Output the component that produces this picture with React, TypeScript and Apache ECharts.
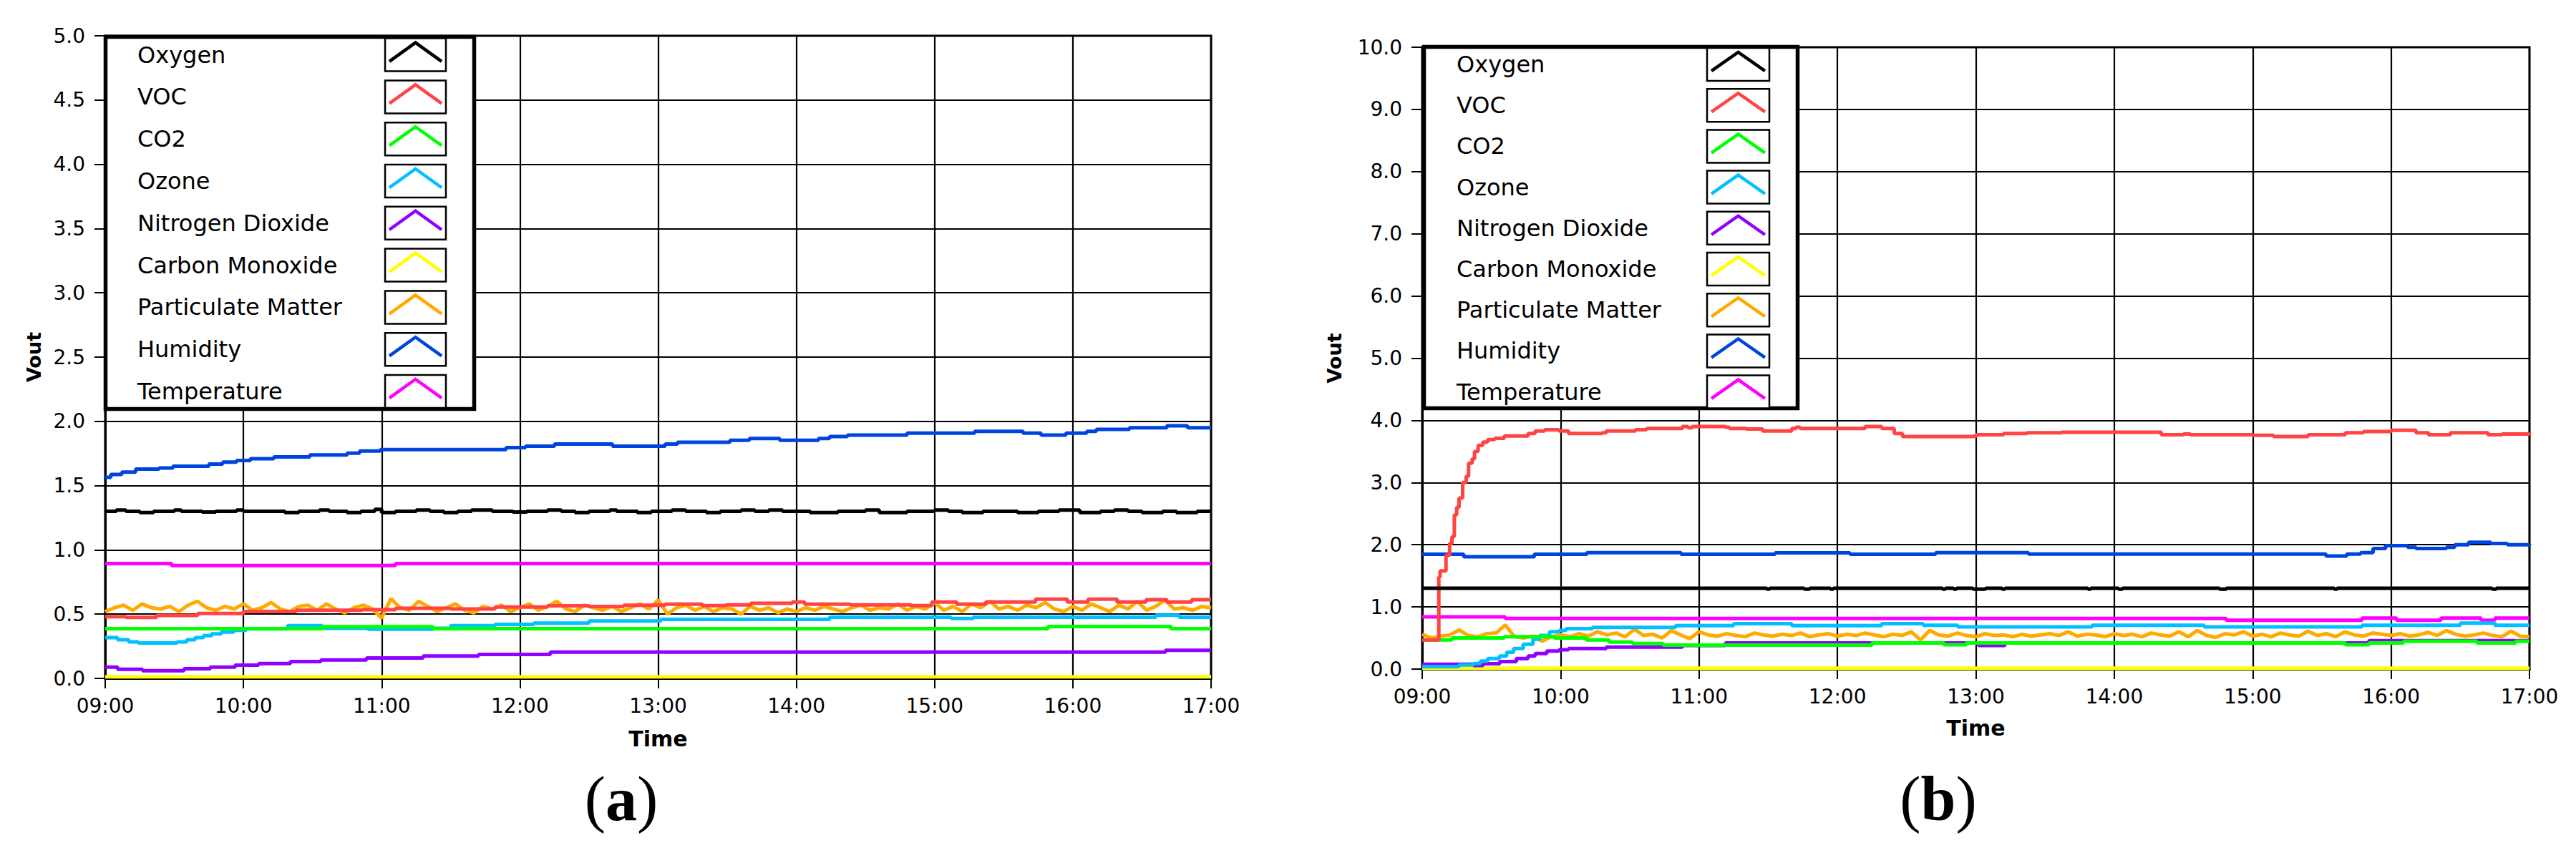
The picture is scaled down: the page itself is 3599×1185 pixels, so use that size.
import React, { useEffect, useRef } from "react";
import * as echarts from "echarts";

// ---------- data ----------
const SERIES_NAMES = [
  "Oxygen",
  "VOC",
  "CO2",
  "Ozone",
  "Nitrogen Dioxide",
  "Carbon Monoxide",
  "Particulate Matter",
  "Humidity",
  "Temperature",
];
const SERIES_COLORS = [
  "#000000",
  "#ff4444",
  "#00ff00",
  "#00c0ff",
  "#9000ff",
  "#ffff00",
  "#ffaa00",
  "#0044e0",
  "#ff00ff",
];

const X_MIN = 9;
const X_MAX = 17;
const PM_SAMPLE_HOURS = 4 / 60;

// ----- panel (a) : [hour, Vout] -----
const oxygenA = [
  [9.0, 1.3], [9.08, 1.31], [9.15, 1.3], [9.25, 1.29], [9.35, 1.3], [9.5, 1.31], [9.55, 1.3], [9.7, 1.295],
  [9.8, 1.3], [9.95, 1.31], [10.0, 1.3], [10.3, 1.29], [10.4, 1.3], [10.55, 1.31], [10.62, 1.3], [10.75, 1.29],
  [10.85, 1.3], [10.95, 1.315], [11.0, 1.29], [11.1, 1.3], [11.25, 1.31], [11.35, 1.3], [11.45, 1.29], [11.55, 1.3],
  [11.65, 1.31], [11.8, 1.3], [11.95, 1.295], [12.05, 1.3], [12.2, 1.31], [12.3, 1.3], [12.4, 1.29], [12.5, 1.3],
  [12.65, 1.31], [12.7, 1.3], [12.85, 1.29], [12.95, 1.3], [13.1, 1.31], [13.2, 1.3], [13.35, 1.29], [13.45, 1.3],
  [13.6, 1.31], [13.7, 1.3], [13.8, 1.31], [13.9, 1.3], [14.1, 1.29], [14.3, 1.3], [14.5, 1.31], [14.6, 1.29],
  [14.8, 1.3], [15.0, 1.31], [15.1, 1.3], [15.2, 1.29], [15.35, 1.3], [15.6, 1.29], [15.75, 1.3], [15.9, 1.31],
  [16.05, 1.29], [16.2, 1.3], [16.3, 1.31], [16.4, 1.3], [16.5, 1.29], [16.65, 1.3], [16.75, 1.29], [16.9, 1.3],
  [17.0, 1.3],
];
const vocA = [
  [9.0, 0.48], [9.15, 0.475], [9.37, 0.49], [9.67, 0.505], [10.0, 0.52], [10.38, 0.53], [10.86, 0.535], [11.1, 0.545],
  [11.5, 0.54], [11.82, 0.555], [12.2, 0.565], [12.5, 0.56], [12.75, 0.57], [13.05, 0.578], [13.32, 0.567],
  [13.49, 0.572], [13.67, 0.585], [13.97, 0.594], [14.06, 0.578], [14.39, 0.572], [14.83, 0.567], [14.98, 0.594],
  [15.16, 0.578], [15.37, 0.594], [15.73, 0.617], [15.96, 0.594], [16.11, 0.617], [16.32, 0.594], [16.53, 0.612],
  [16.68, 0.594], [16.86, 0.612], [17.0, 0.612],
];
const co2A = [[9.0, 0.387], [10.57, 0.402], [11.37, 0.387], [15.82, 0.404], [16.71, 0.387], [17.0, 0.387]];
const ozoneA = [
  [9.0, 0.318], [9.09, 0.3], [9.17, 0.284], [9.24, 0.275], [9.52, 0.284], [9.59, 0.3], [9.65, 0.318], [9.71, 0.333],
  [9.77, 0.346], [9.84, 0.36], [9.93, 0.374], [10.02, 0.385], [10.32, 0.41], [10.57, 0.39], [10.9, 0.383],
  [11.37, 0.39], [11.5, 0.41], [11.82, 0.42], [12.1, 0.43], [12.5, 0.447], [13.02, 0.46], [14.24, 0.476],
  [15.12, 0.467], [15.28, 0.476], [16.6, 0.492], [16.77, 0.476], [17.0, 0.476],
];
const no2A = [
  [9.0, 0.088], [9.09, 0.071], [9.27, 0.06], [9.57, 0.075], [9.76, 0.088], [9.94, 0.103], [10.11, 0.116],
  [10.34, 0.131], [10.56, 0.144], [10.89, 0.159], [11.3, 0.174], [11.7, 0.187], [12.22, 0.204], [16.67, 0.218],
  [17.0, 0.218],
];
const coA = [[9.0, 0.012], [17.0, 0.012]];
const pmA = [
  0.52, 0.55, 0.57, 0.53, 0.58, 0.55, 0.54, 0.56, 0.52, 0.57, 0.6, 0.55, 0.53, 0.56, 0.54,
  0.58, 0.53, 0.55, 0.59, 0.54, 0.52, 0.56, 0.57, 0.53, 0.58, 0.54, 0.51, 0.55, 0.57, 0.54,
  0.47, 0.62, 0.55, 0.53, 0.6, 0.56, 0.52, 0.55, 0.58, 0.53, 0.51, 0.56, 0.54, 0.57, 0.52,
  0.55, 0.58, 0.53, 0.56, 0.6, 0.54, 0.52, 0.57, 0.55, 0.53, 0.56, 0.52, 0.55, 0.58, 0.54,
  0.61, 0.5, 0.55, 0.57, 0.53, 0.56, 0.52, 0.55, 0.54, 0.5, 0.56, 0.53, 0.55, 0.51, 0.54,
  0.52, 0.55, 0.53, 0.56, 0.54, 0.52, 0.55, 0.57, 0.53, 0.55, 0.54, 0.58, 0.53, 0.56, 0.54,
  0.59, 0.53, 0.56, 0.52, 0.58, 0.55, 0.6, 0.54, 0.56, 0.53, 0.57, 0.55, 0.59, 0.54, 0.52,
  0.56, 0.53, 0.58, 0.55, 0.52, 0.57, 0.54, 0.6, 0.53, 0.56, 0.61, 0.54, 0.55, 0.53, 0.56,
  0.55,
];
const humidityA = [
  [9.0, 1.565], [9.04, 1.587], [9.12, 1.605], [9.22, 1.628], [9.39, 1.637], [9.49, 1.651], [9.75, 1.667],
  [9.85, 1.683], [9.95, 1.696], [10.05, 1.71], [10.22, 1.723], [10.48, 1.739], [10.75, 1.753], [10.84, 1.769],
  [10.99, 1.78], [11.9, 1.796], [12.04, 1.807], [12.25, 1.823], [12.67, 1.807], [13.05, 1.823], [13.14, 1.837],
  [13.52, 1.853], [13.66, 1.866], [13.88, 1.853], [14.16, 1.866], [14.24, 1.882], [14.37, 1.893], [14.8, 1.909],
  [15.29, 1.923], [15.64, 1.909], [15.77, 1.893], [15.95, 1.909], [16.1, 1.923], [16.17, 1.937], [16.41, 1.95],
  [16.68, 1.966], [16.83, 1.95], [17.0, 1.95],
];
const temperatureA = [[9.0, 0.893], [9.48, 0.878], [11.1, 0.893], [17.0, 0.893]];

// ----- panel (b) : [hour, Vout] -----
const oxygenB = [
  [9.0, 1.3], [11.49, 1.285], [11.51, 1.3], [11.76, 1.285], [11.8, 1.3], [11.95, 1.285], [11.97, 1.3],
  [12.76, 1.285], [12.78, 1.3], [12.84, 1.285], [12.86, 1.3], [12.98, 1.285], [13.07, 1.3], [13.19, 1.285],
  [13.21, 1.3], [13.81, 1.285], [13.83, 1.3], [14.03, 1.285], [14.06, 1.3], [14.76, 1.285], [14.81, 1.3],
  [15.59, 1.285], [15.61, 1.3], [16.73, 1.285], [16.76, 1.3], [17.0, 1.3],
];
const vocB = [
  [9.0, 0.47], [9.12, 1.48], [9.129, 1.58], [9.172, 1.83], [9.198, 2.02], [9.215, 2.13], [9.232, 2.48],
  [9.249, 2.6], [9.266, 2.75], [9.292, 3.0], [9.318, 3.1], [9.335, 3.31], [9.361, 3.38], [9.378, 3.5],
  [9.404, 3.6], [9.438, 3.65], [9.473, 3.69], [9.524, 3.71], [9.593, 3.75], [9.765, 3.79], [9.816, 3.83],
  [9.885, 3.85], [9.988, 3.83], [10.057, 3.79], [10.3, 3.8], [10.33, 3.83], [10.54, 3.85], [10.62, 3.87],
  [10.88, 3.9], [10.92, 3.88], [10.95, 3.9], [11.19, 3.89], [11.22, 3.87], [11.34, 3.86], [11.46, 3.83],
  [11.67, 3.87], [11.7, 3.89], [11.73, 3.87], [12.0, 3.87], [12.2, 3.9], [12.32, 3.87], [12.41, 3.79],
  [12.47, 3.74], [12.71, 3.74], [13.0, 3.77], [13.2, 3.79], [13.37, 3.8], [13.62, 3.81], [14.0, 3.81],
  [14.34, 3.77], [14.5, 3.78], [14.55, 3.77], [15.0, 3.76], [15.15, 3.74], [15.4, 3.77], [15.67, 3.8],
  [15.8, 3.82], [16.0, 3.84], [16.18, 3.8], [16.27, 3.77], [16.43, 3.8], [16.7, 3.77], [16.8, 3.78],
  [17.0, 3.8],
];
const co2B = [
  [9.0, 0.47], [9.215, 0.5], [9.593, 0.52], [9.954, 0.5], [10.186, 0.47], [10.35, 0.435], [10.52, 0.41],
  [10.74, 0.385], [12.25, 0.42], [12.77, 0.39], [12.93, 0.42], [15.67, 0.39], [15.84, 0.42], [16.09, 0.45],
  [16.62, 0.42], [16.9, 0.45], [17.0, 0.45],
];
const ozoneB = [
  [9.0, 0.04], [9.266, 0.065], [9.37, 0.09], [9.421, 0.13], [9.473, 0.17], [9.558, 0.21], [9.61, 0.27],
  [9.66, 0.33], [9.73, 0.4], [9.8, 0.48], [9.85, 0.54], [9.92, 0.6], [9.99, 0.62], [10.04, 0.65], [10.23, 0.67],
  [10.83, 0.7], [11.25, 0.73], [11.67, 0.7], [12.32, 0.73], [12.62, 0.705], [12.87, 0.68], [13.84, 0.705],
  [14.65, 0.68], [15.79, 0.705], [16.5, 0.74], [16.75, 0.705], [17.0, 0.705],
];
const no2B = [
  [9.0, 0.077], [9.37, 0.058], [9.44, 0.085], [9.56, 0.12], [9.68, 0.17], [9.765, 0.21], [9.816, 0.25],
  [9.9, 0.29], [9.988, 0.31], [10.057, 0.33], [10.33, 0.354], [10.88, 0.38], [11.19, 0.42], [13.02, 0.38],
  [13.21, 0.42], [15.84, 0.458], [17.0, 0.458],
];
const coB = [[9.0, 0.015], [17.0, 0.015]];
const pmB = [
  0.56, 0.5, 0.53, 0.55, 0.63, 0.54, 0.52, 0.57, 0.58, 0.71, 0.52, 0.5, 0.53, 0.45, 0.52,
  0.55, 0.52, 0.57, 0.53, 0.6, 0.55, 0.58, 0.52, 0.64, 0.54, 0.56, 0.5, 0.62, 0.55, 0.49,
  0.6, 0.55, 0.53, 0.57, 0.54, 0.52, 0.58, 0.55, 0.53, 0.56, 0.54, 0.58, 0.52, 0.55, 0.57,
  0.53, 0.56, 0.54, 0.58, 0.55, 0.52, 0.56, 0.54, 0.6, 0.47, 0.62, 0.55, 0.53, 0.58, 0.54,
  0.52, 0.57, 0.54, 0.55, 0.52, 0.56, 0.53, 0.55, 0.57, 0.54, 0.6, 0.53, 0.56, 0.55, 0.52,
  0.57, 0.54, 0.56, 0.52, 0.58, 0.55, 0.53, 0.6, 0.52, 0.62, 0.54, 0.51, 0.57, 0.55, 0.6,
  0.53, 0.56, 0.52, 0.58, 0.55, 0.53, 0.61, 0.54, 0.57, 0.52, 0.6, 0.55, 0.53, 0.58, 0.56,
  0.54, 0.57, 0.53, 0.55, 0.59, 0.54, 0.62, 0.56, 0.53, 0.55, 0.58, 0.54, 0.52, 0.61, 0.53,
  0.52,
];
const humidityB = [
  [9.0, 1.846], [9.3, 1.808], [9.81, 1.846], [10.19, 1.873], [10.87, 1.846], [11.55, 1.87], [12.09, 1.846],
  [12.71, 1.874], [13.38, 1.849], [15.53, 1.819], [15.68, 1.849], [15.78, 1.874], [15.87, 1.94], [15.96, 1.985],
  [16.12, 1.96], [16.18, 1.94], [16.4, 1.96], [16.46, 2.0], [16.56, 2.04], [16.72, 2.02], [16.84, 2.0],
  [17.0, 2.015],
];
const temperatureB = [
  [9.0, 0.84], [9.6, 0.815], [14.81, 0.786], [15.79, 0.821], [16.04, 0.786], [16.36, 0.821], [16.65, 0.786],
  [16.75, 0.821], [17.0, 0.821],
];

// ---------- layout ----------
const W = 3599;
const H = 1185;
const FONT = "'DejaVu Sans', Verdana, sans-serif";
const LINE_W = 5;

const PANELS = [
  {
    grid: { left: 147, top: 50, width: 1545, height: 898 },
    yMax: 5, yStep: 0.5, yNameGap: 86, xNameGap: 69,
    legend: { x: 147.5, y: 51.5, w: 515, h: 520, textX: 192, swX: 538, swY: 53.6, swW: 85, swH: 46, pitch: 58.8 },
    tag: { x: 868, y: 1116, letter: "a" },
    data: [oxygenA, vocA, co2A, ozoneA, no2A, coA, pmA, humidityA, temperatureA],
  },
  {
    grid: { left: 1987, top: 66, width: 1547, height: 869 },
    yMax: 10, yStep: 1, yNameGap: 109, xNameGap: 67,
    legend: { x: 1989.5, y: 65.5, w: 522, h: 505, textX: 2035, swX: 2385, swY: 67, swW: 87, swH: 46, pitch: 57.2 },
    tag: { x: 2708, y: 1116, letter: "b" },
    data: [oxygenB, vocB, co2B, ozoneB, no2B, coB, pmB, humidityB, temperatureB],
  },
];

const PM_INDEX = 6;

function toPairs(values: number[]) {
  return values.map((v, i) => [X_MIN + i * PM_SAMPLE_HOURS, v]);
}

function buildOption() {
  const grids: any[] = [];
  const xAxes: any[] = [];
  const yAxes: any[] = [];
  const series: any[] = [];
  const graphics: any[] = [];

  PANELS.forEach((p, pi) => {
    grids.push({
      ...p.grid,
      containLabel: false,
      outerBoundsMode: "none",
      show: true,
      borderColor: "#000",
      borderWidth: 3,
      backgroundColor: "#fff",
    });
    xAxes.push({
      type: "value",
      gridIndex: pi,
      min: X_MIN,
      max: X_MAX,
      interval: 1,
      name: "Time",
      nameLocation: "middle",
      nameGap: p.xNameGap,
      nameTextStyle: { fontFamily: FONT, fontSize: 30, fontWeight: "bold", color: "#000" },
      axisLine: { show: true, lineStyle: { color: "#000", width: 3 } },
      axisTick: { show: true, length: 14, lineStyle: { color: "#000", width: 2 } },
      axisLabel: {
        fontFamily: FONT,
        fontSize: 28,
        color: "#000",
        margin: 24,
        formatter: (v: number) => (v < 10 ? "0" : "") + v + ":00",
      },
      splitLine: { show: true, lineStyle: { color: "#000", width: 2.2 } },
    });
    yAxes.push({
      type: "value",
      gridIndex: pi,
      min: 0,
      max: p.yMax,
      interval: p.yStep,
      name: "Vout",
      nameLocation: "middle",
      nameRotate: 90,
      nameGap: p.yNameGap,
      nameTextStyle: { fontFamily: FONT, fontSize: 27, fontWeight: "bold", color: "#000" },
      axisLine: { show: true, lineStyle: { color: "#000", width: 3 } },
      axisTick: { show: true, length: 15, lineStyle: { color: "#000", width: 2 } },
      axisLabel: {
        fontFamily: FONT,
        fontSize: 28,
        color: "#000",
        margin: 28,
        formatter: (v: number) => v.toFixed(1),
      },
      splitLine: { show: true, lineStyle: { color: "#000", width: 2.2 } },
    });

    // lower index drawn on top -> push in reverse order
    for (let si = SERIES_NAMES.length - 1; si >= 0; si--) {
      const raw: any = p.data[si];
      const isPM = si === PM_INDEX;
      series.push({
        type: "line",
        name: SERIES_NAMES[si],
        xAxisIndex: pi,
        yAxisIndex: pi,
        data: isPM ? toPairs(raw) : raw,
        step: isPM ? false : "end",
        showSymbol: false,
        symbol: "none",
        lineStyle: { color: SERIES_COLORS[si], width: LINE_W },
        itemStyle: { color: SERIES_COLORS[si] },
        emphasis: { disabled: true },
        silent: true,
      });
    }

    // LabVIEW-style legend box
    const L = p.legend;
    graphics.push({
      type: "rect",
      z: 100,
      shape: { x: L.x, y: L.y, width: L.w, height: L.h },
      style: { fill: "#fff", stroke: "#000", lineWidth: 5.5 },
    });
    SERIES_NAMES.forEach((name, si) => {
      const sy = L.swY + si * L.pitch;
      graphics.push({
        type: "rect",
        z: 101,
        shape: { x: L.swX, y: sy, width: L.swW, height: L.swH },
        style: { fill: "#fff", stroke: "#000", lineWidth: 2.5 },
      });
      graphics.push({
        type: "polyline",
        z: 102,
        shape: {
          points: [
            [L.swX + L.swW * 0.07, sy + L.swH * 0.7],
            [L.swX + L.swW * 0.5, sy + L.swH * 0.13],
            [L.swX + L.swW * 0.93, sy + L.swH * 0.7],
          ],
        },
        style: { stroke: SERIES_COLORS[si], lineWidth: 4.5, fill: null },
      });
      graphics.push({
        type: "text",
        z: 102,
        x: L.textX,
        y: sy + L.swH / 2,
        style: {
          text: name,
          fontFamily: FONT,
          fontSize: 32,
          fill: "#000",
          textVerticalAlign: "middle",
          verticalAlign: "middle",
          textAlign: "left",
        },
      });
    });

    graphics.push({
      type: "text",
      z: 102,
      x: p.tag.x,
      y: p.tag.y,
      style: {
        text: "{p|(}{b|" + p.tag.letter + "}{p|)}",
        textAlign: "center",
        textVerticalAlign: "middle",
        verticalAlign: "middle",
        rich: {
          p: { fontFamily: "'Liberation Serif', 'Times New Roman', serif", fontSize: 88, fill: "#000" },
          b: {
            fontFamily: "'Liberation Serif', 'Times New Roman', serif",
            fontSize: 88,
            fontWeight: "bold",
            fill: "#000",
          },
        },
      },
    });
  });

  return {
    animation: false,
    backgroundColor: "#fff",
    legend: { show: false, data: SERIES_NAMES },
    grid: grids,
    xAxis: xAxes,
    yAxis: yAxes,
    series,
    graphic: { elements: graphics },
  };
}

export default function App() {
  const ref = useRef<HTMLDivElement>(null);
  useEffect(() => {
    document.body.style.margin = "0";
    if (!ref.current) return;
    const chart = echarts.init(ref.current, undefined, { renderer: "svg", width: W, height: H });
    chart.setOption(buildOption() as any);
    return () => chart.dispose();
  }, []);
  return <div ref={ref} style={{ width: W, height: H, background: "#fff" }} />;
}
